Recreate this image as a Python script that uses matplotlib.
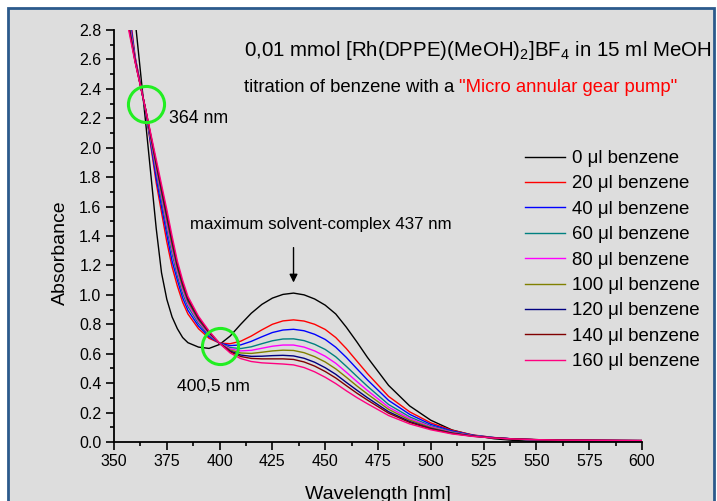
import numpy as np
import matplotlib
matplotlib.use('Agg')
import matplotlib.pyplot as plt
from matplotlib.patches import Rectangle
from matplotlib.ticker import MultipleLocator

plt.rcParams['font.family'] = ['Liberation Sans', 'DejaVu Sans']
plt.rcParams['mathtext.fontset'] = 'custom'
plt.rcParams['mathtext.rm'] = 'Liberation Sans'

# UV/Vis spectra, absorbance
wl = [355, 360, 365, 370, 372.5, 375, 377.5, 380, 382.5, 385, 390, 395, 400,
      405, 410, 415, 420, 425, 430, 435, 440, 445, 450, 455, 460, 465, 470,
      480, 490, 500, 510, 520, 530, 540, 550, 560, 575, 600]

a_0 = [3.6, 2.87, 2.17, 1.45, 1.15, 0.97, 0.85, 0.77, 0.71, 0.675, 0.645, 0.636, 0.663,
       0.72, 0.80, 0.875, 0.935, 0.978, 1.003, 1.012, 1.000, 0.972, 0.93, 0.87, 0.78, 0.68, 0.575,
       0.385, 0.245, 0.148, 0.082, 0.045, 0.022, 0.01, 0.003, 0.0, 0.002, 0.005]
a_20 = [3.2, 2.62, 2.25, 1.76, 1.56, 1.36, 1.19, 1.06, 0.95, 0.87, 0.77, 0.705, 0.672,
        0.668, 0.685, 0.72, 0.762, 0.80, 0.823, 0.830, 0.822, 0.80, 0.765, 0.71, 0.635, 0.55, 0.465,
        0.31, 0.205, 0.13, 0.08, 0.048, 0.03, 0.02, 0.015, 0.012, 0.01, 0.008]
a_40 = [3.15, 2.61, 2.25, 1.79, 1.60, 1.41, 1.23, 1.10, 0.98, 0.895, 0.788, 0.716, 0.672,
        0.655, 0.66, 0.684, 0.715, 0.744, 0.761, 0.766, 0.756, 0.732, 0.697, 0.644, 0.575, 0.498, 0.422,
        0.283, 0.188, 0.12, 0.075, 0.046, 0.03, 0.02, 0.015, 0.012, 0.01, 0.008]
a_60 = [3.09, 2.60, 2.25, 1.83, 1.64, 1.45, 1.28, 1.13, 1.01, 0.92, 0.806, 0.726, 0.671,
        0.642, 0.635, 0.647, 0.668, 0.688, 0.70, 0.701, 0.689, 0.664, 0.629, 0.579, 0.514, 0.446, 0.379,
        0.255, 0.171, 0.11, 0.07, 0.044, 0.029, 0.02, 0.015, 0.012, 0.011, 0.009]
a_80 = [3.05, 2.60, 2.255, 1.85, 1.67, 1.48, 1.31, 1.155, 1.034, 0.937, 0.818, 0.733, 0.671,
        0.633, 0.619, 0.623, 0.637, 0.651, 0.659, 0.659, 0.645, 0.619, 0.583, 0.535, 0.474, 0.411, 0.35,
        0.237, 0.159, 0.104, 0.066, 0.042, 0.028, 0.02, 0.015, 0.012, 0.011, 0.009]
a_100 = [3.02, 2.59, 2.257, 1.87, 1.69, 1.51, 1.333, 1.176, 1.052, 0.952, 0.828, 0.739, 0.671,
         0.625, 0.605, 0.602, 0.61, 0.619, 0.624, 0.622, 0.607, 0.58, 0.544, 0.497, 0.44, 0.381, 0.326,
         0.222, 0.149, 0.098, 0.063, 0.041, 0.028, 0.02, 0.016, 0.013, 0.011, 0.009]
a_120 = [2.99, 2.59, 2.258, 1.89, 1.71, 1.536, 1.358, 1.196, 1.07, 0.966, 0.838, 0.745, 0.67,
         0.618, 0.591, 0.582, 0.583, 0.587, 0.589, 0.585, 0.569, 0.542, 0.505, 0.46, 0.405, 0.352, 0.301,
         0.206, 0.139, 0.092, 0.06, 0.04, 0.028, 0.02, 0.016, 0.013, 0.012, 0.01]
a_140 = [2.97, 2.585, 2.259, 1.90, 1.727, 1.554, 1.375, 1.21, 1.082, 0.976, 0.845, 0.749, 0.67,
         0.613, 0.581, 0.568, 0.565, 0.565, 0.565, 0.561, 0.544, 0.516, 0.479, 0.435, 0.383, 0.332, 0.285,
         0.196, 0.133, 0.089, 0.058, 0.039, 0.027, 0.02, 0.016, 0.013, 0.012, 0.01]
a_160 = [2.94, 2.58, 2.26, 1.92, 1.75, 1.58, 1.40, 1.23, 1.10, 0.99, 0.855, 0.755, 0.67,
         0.605, 0.567, 0.547, 0.538, 0.534, 0.530, 0.524, 0.506, 0.477, 0.44, 0.397, 0.348, 0.302, 0.26,
         0.18, 0.123, 0.083, 0.055, 0.038, 0.027, 0.02, 0.016, 0.013, 0.012, 0.01]

spectra = [a_0, a_20, a_40, a_60, a_80, a_100, a_120, a_140, a_160]
labels = ['0 μl benzene', '20 μl benzene', '40 μl benzene', '60 μl benzene', '80 μl benzene',
          '100 μl benzene', '120 μl benzene', '140 μl benzene', '160 μl benzene']
colors = ['#000000', '#ff0000', '#0000ff', '#008080', '#ff00ff',
          '#808000', '#000080', '#800000', '#ff0080']

W, H = 717, 501
fig = plt.figure(figsize=(W / 100, H / 100), dpi=100)
fig.patch.set_facecolor('white')
fig.patches.append(Rectangle((8 / W, -0.05), 706 / W, 1 - 8 / H + 0.05, transform=fig.transFigure,
                             facecolor='#dddddd', edgecolor='#2b5a8c', lw=2, zorder=-5))

ax = fig.add_axes([114 / W, 1 - 442 / H, 528 / W, 412 / H])
ax.set_zorder(2)
ax.set_facecolor('none')

for y, lab, c in zip(spectra, labels, colors):
    ax.plot(wl, y, color=c, lw=1.0, label=lab)

ax.set_xlim(350, 600)
ax.set_ylim(0, 2.8)
ax.xaxis.set_major_locator(MultipleLocator(25))
ax.xaxis.set_minor_locator(MultipleLocator(12.5))
ax.yaxis.set_major_locator(MultipleLocator(0.2))
ax.yaxis.set_minor_locator(MultipleLocator(0.1))
ax.yaxis.set_major_formatter(matplotlib.ticker.FormatStrFormatter('%.1f'))
ax.tick_params(which='major', direction='out', length=6, width=1.2, labelsize=11.5, pad=3)
ax.tick_params(which='minor', direction='out', length=3, width=1.2)
for s in ['top', 'right']:
    ax.spines[s].set_visible(False)
for s in ['left', 'bottom']:
    ax.spines[s].set_linewidth(1.3)

ax.set_ylabel('Absorbance', fontsize=14)
ax.yaxis.set_label_coords(-0.086, 0.46)
ax.set_xlabel('Wavelength [nm]', fontsize=14, labelpad=12)

# isosbestic points
ax.plot([365, 400.2], [2.30, 0.655], 'o', ms=26, mfc='none', mec='#22ee22', mew=2.2, clip_on=False)
ax.text(376, 2.20, '364 nm', fontsize=12.8, va='center')
ax.text(380, 0.38, '400,5 nm', fontsize=12.6, va='center')

ax.text(386, 1.48, 'maximum solvent-complex 437 nm', fontsize=12.2, va='center')
ax.annotate('', xy=(435, 1.065), xytext=(435, 1.34),
            arrowprops=dict(arrowstyle='-|>', color='black', lw=1, mutation_scale=12))

fig.text(244 / W, 1 - 50 / H, '0,01 mmol [Rh(DPPE)(MeOH)$_2$]BF$_4$ in 15 ml MeOH',
         fontsize=14.8, va='center', ha='left')
t1 = fig.text(244 / W, 1 - 88 / H, 'titration of benzene with a ', fontsize=13.3, va='center', ha='left')
fig.canvas.draw()
bb = t1.get_window_extent()
fig.text(bb.x1 / W, 1 - 88 / H, '"Micro annular gear pump"', color='#ff0000',
         fontsize=13.3, va='center', ha='left')

ax.legend(loc='upper left', bbox_to_anchor=(525 / W, 1 - 150 / H), bbox_transform=fig.transFigure,
          frameon=False, fontsize=13.4, handlelength=2.15, handletextpad=0.38, labelspacing=0.45,
          borderpad=0, borderaxespad=0)

fig.savefig('out.png', dpi=100, facecolor=fig.get_facecolor())
